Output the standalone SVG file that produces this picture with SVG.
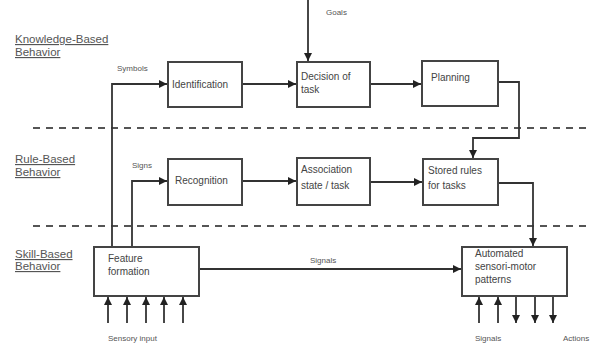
<svg xmlns="http://www.w3.org/2000/svg" width="592" height="343" viewBox="0 0 592 343">
<style>
.box{fill:#fff;stroke:#444;stroke-width:2}
.t{font-family:"Liberation Sans",Arial,sans-serif;font-size:10px;fill:#444}
.s{font-family:"Liberation Sans",Arial,sans-serif;font-size:8px;fill:#555}
.lv{font-family:"Liberation Sans",Arial,sans-serif;font-size:11.5px;fill:#555;text-decoration:underline}
.ln{fill:none;stroke:#333;stroke-width:1.8}
.dash{fill:none;stroke:#555;stroke-width:2.2;stroke-dasharray:7,6}
</style>
<defs>
<marker id="ah" viewBox="0 0 10 10" refX="10" refY="5" markerWidth="4.5" markerHeight="4.5" orient="auto" markerUnits="strokeWidth">
<path d="M0,0 L10,5 L0,10 z" fill="#222"/>
</marker>
</defs>
<rect width="592" height="343" fill="#fff"/>
<g id="levels">
<text class="lv" x="15" y="43">Knowledge-Based</text>
<text class="lv" x="15" y="56">Behavior</text>
<text class="lv" x="15" y="163">Rule-Based</text>
<text class="lv" x="15" y="176">Behavior</text>
<text class="lv" x="15" y="258">Skill-Based</text>
<text class="lv" x="15" y="270">Behavior</text>
<line class="dash" x1="33" y1="128" x2="592" y2="128"/>
<line class="dash" x1="33" y1="226" x2="592" y2="226"/>
</g>
<g id="connectors">
<polyline class="ln" points="112,247 112,84 167,84" marker-end="url(#ah)"/>
<polyline class="ln" points="132,247 132,181 167,181" marker-end="url(#ah)"/>
<line class="ln" x1="242" y1="84" x2="296" y2="84" marker-end="url(#ah)"/>
<line class="ln" x1="308" y1="0" x2="308" y2="61" marker-end="url(#ah)"/>
<line class="ln" x1="370" y1="84" x2="421" y2="84" marker-end="url(#ah)"/>
<polyline class="ln" points="498,82 519,82 519,138 473,138 473,158" marker-end="url(#ah)"/>
<line class="ln" x1="242" y1="181" x2="296" y2="181" marker-end="url(#ah)"/>
<line class="ln" x1="370" y1="182" x2="422" y2="182" marker-end="url(#ah)"/>
<polyline class="ln" points="498,183 533,183 533,246" marker-end="url(#ah)"/>
<line class="ln" x1="199" y1="269" x2="461" y2="269" marker-end="url(#ah)"/>
<line class="ln" x1="108" y1="323" x2="108" y2="297" marker-end="url(#ah)"/>
<line class="ln" x1="127" y1="323" x2="127" y2="297" marker-end="url(#ah)"/>
<line class="ln" x1="146" y1="323" x2="146" y2="297" marker-end="url(#ah)"/>
<line class="ln" x1="164" y1="323" x2="164" y2="297" marker-end="url(#ah)"/>
<line class="ln" x1="183" y1="323" x2="183" y2="297" marker-end="url(#ah)"/>
<line class="ln" x1="479" y1="323" x2="479" y2="297" marker-end="url(#ah)"/>
<line class="ln" x1="498" y1="323" x2="498" y2="297" marker-end="url(#ah)"/>
<line class="ln" x1="516" y1="296" x2="516" y2="323" marker-end="url(#ah)"/>
<line class="ln" x1="535" y1="296" x2="535" y2="323" marker-end="url(#ah)"/>
<line class="ln" x1="553" y1="296" x2="553" y2="323" marker-end="url(#ah)"/>
<text class="s" x="117" y="71">Symbols</text>
<text class="s" x="132" y="168">Signs</text>
<text class="s" x="326" y="15">Goals</text>
<text class="s" x="310" y="263">Signals</text>
<text class="s" x="108" y="341">Sensory input</text>
<text class="s" x="475" y="341">Signals</text>
<text class="s" x="563" y="341">Actions</text>
</g>
<g id="identification"><rect class="box" x="168" y="62" width="74" height="45"/><text class="t" x="172" y="88">Identification</text></g>
<g id="decision"><rect class="box" x="297" y="62" width="73" height="45"/><text class="t" x="301" y="80">Decision of</text><text class="t" x="301" y="93">task</text></g>
<g id="planning"><rect class="box" x="422" y="61" width="76" height="45"/><text class="t" x="431" y="81">Planning</text></g>
<g id="recognition"><rect class="box" x="168" y="159" width="74" height="46"/><text class="t" x="175" y="184">Recognition</text></g>
<g id="association"><rect class="box" x="297" y="158" width="73" height="47"/><text class="t" x="301" y="173">Association</text><text class="t" x="301" y="189">state / task</text></g>
<g id="stored"><rect class="box" x="423" y="159" width="75" height="46"/><text class="t" x="428" y="174">Stored rules</text><text class="t" x="428" y="189">for tasks</text></g>
<g id="feature"><rect class="box" x="94" y="247" width="105" height="49"/><text class="t" x="108" y="262">Feature</text><text class="t" x="108" y="275">formation</text></g>
<g id="automated"><rect class="box" x="462" y="247" width="105" height="49"/><text class="t" x="475" y="257">Automated</text><text class="t" x="475" y="270">sensori-motor</text><text class="t" x="475" y="283">patterns</text></g>
</svg>
